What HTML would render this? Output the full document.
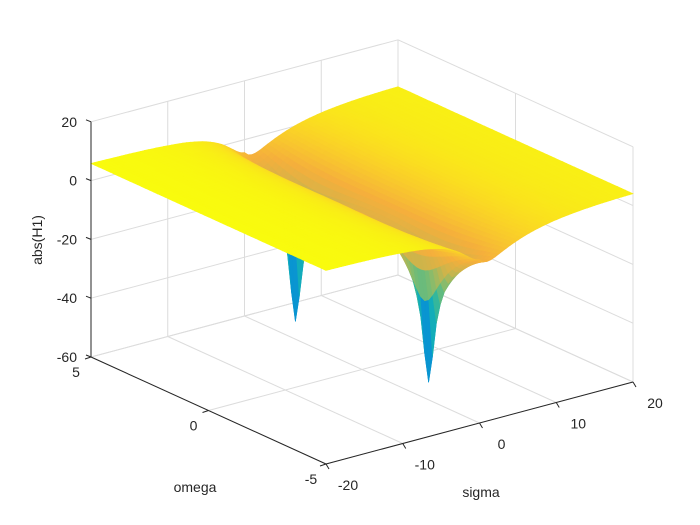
<!DOCTYPE html>
<html><head><meta charset="utf-8">
<style>
html,body{margin:0;padding:0;background:#fff;}
svg{display:block;font-family:"Liberation Sans",sans-serif;}
</style></head>
<body>
<svg id="chart" width="700" height="525" viewBox="0 0 700 525" xmlns="http://www.w3.org/2000/svg">
<g id="grid"></g>
<g id="surface"></g>
<g id="axes"></g>
</svg>
<script>
// data
const sigmaTicks = [-20, -10, 0, 10, 20];
const omegaTicks = [-5, 0, 5];
const zTicks = [-60, -40, -20, 0, 20];
const zeroSigma = [0, 0];
const zeroOmega = [2.8333, -2.8333];
const sigmaRange = [-20, 20];
const omegaRange = [-5, 5];
const zRange = [-60, 20];
const baseLeft = 6.2;
const baseRight = 4.6;
const notchFloor = -54;

const NS = "http://www.w3.org/2000/svg";
function P(s, w, z) {
  return [91 + 7.675 * (s + 20) + 23.5 * (5 - w),
          357 - 2.05 * (s + 20) + 10.7 * (5 - w) - 2.94 * (z + 60)];
}
function mk(parent, tag, attrs) {
  const e = document.createElementNS(NS, tag);
  for (const k in attrs) e.setAttribute(k, attrs[k]);
  parent.appendChild(e);
  return e;
}
function zVal(s, w) {
  const mid = (baseLeft + baseRight) / 2, half = (baseLeft - baseRight) / 2;
  let z = mid - half * Math.tanh(s / 6);
  const R = 16 + 12 * Math.max(0, s) * Math.exp(-s / 6);
  for (let k = 0; k < zeroSigma.length; k++) {
    const d = (s - zeroSigma[k]) ** 2 + (w - zeroOmega[k]) ** 2;
    z += 10 * Math.log10((d + 1e-6) / (d + R));
    z += 10 * Math.log10((d + 1e-6) / (d + 3));
  }
  return Math.max(z, notchFloor);
}
const parula = [[53,42,135],[15,92,221],[18,125,216],[7,156,207],[21,177,180],[60,185,150],[130,188,110],[205,180,75],[245,175,60],[250,212,38],[249,251,14]];
function color(t) {
  t = Math.max(0, Math.min(1, t)) * (parula.length - 1);
  const i = Math.min(parula.length - 2, Math.floor(t)), f = t - i;
  const a = parula[i], b = parula[i + 1];
  return `rgb(${Math.round(a[0]+(b[0]-a[0])*f)},${Math.round(a[1]+(b[1]-a[1])*f)},${Math.round(a[2]+(b[2]-a[2])*f)})`;
}

// grid
const grid = document.getElementById('grid');
const gs = {stroke: '#dcdcdc', 'stroke-width': 1, fill: 'none'};
function line(g, a, b, st) { return mk(g, 'line', Object.assign({x1: a[0], y1: a[1], x2: b[0], y2: b[1]}, st)); }
sigmaTicks.forEach(s => {
  let l = line(grid, P(s, 5, -60), P(s, -5, -60), gs);
  
  
  l = line(grid, P(s, 5, -60), P(s, 5, 20), gs);
  
  
});
omegaTicks.forEach(w => {
  let l = line(grid, P(-20, w, -60), P(20, w, -60), gs);
  
  
  l = line(grid, P(20, w, -60), P(20, w, 20), gs);
  
  
});
zTicks.forEach(z => {
  let l = line(grid, P(-20, 5, z), P(20, 5, z), gs);
  
  
  l = line(grid, P(20, 5, z), P(20, -5, z), gs);
  
  
});

// surface
const surf = document.getElementById('surface');
const NSs = 81, NWs = 61;
const S = [], W = [];
for (let i = 0; i < NSs; i++) S.push(sigmaRange[0] + (sigmaRange[1] - sigmaRange[0]) * i / (NSs - 1));
for (let j = 0; j < NWs; j++) W.push(omegaRange[0] + (omegaRange[1] - omegaRange[0]) * j / (NWs - 1));
const Z = S.map(s => W.map(w => zVal(s, w)));
let zmin = Infinity, zmax = -Infinity;
Z.forEach(r => r.forEach(v => { zmin = Math.min(zmin, v); zmax = Math.max(zmax, v); }));
const quads = [];
for (let i = 0; i < NSs - 1; i++) for (let j = 0; j < NWs - 1; j++) {
  quads.push([i, j, i / (NSs - 1) + j / (NWs - 1)]);
}
quads.sort((a, b) => b[2] - a[2]);
quads.forEach(([i, j]) => {
  const pts = [P(S[i], W[j], Z[i][j]), P(S[i+1], W[j], Z[i+1][j]), P(S[i+1], W[j+1], Z[i+1][j+1]), P(S[i], W[j+1], Z[i][j+1])];
  const zm = (Z[i][j] + Z[i+1][j] + Z[i+1][j+1] + Z[i][j+1]) / 4;
  const c = color((zm - zmin) / (zmax - zmin));
  const p = mk(surf, 'polygon', {points: pts.map(q => q[0].toFixed(1) + ',' + q[1].toFixed(1)).join(' '), fill: c, stroke: c, 'stroke-width': 0.6});
  
  
});

// axes
const ax = document.getElementById('axes');
const as = {stroke: '#262626', 'stroke-width': 1};
let e;
e = line(ax, P(-20, 5, -60), P(-20, 5, 20), as);


e = line(ax, P(-20, 5, -60), P(-20, -5, -60), as);


e = line(ax, P(-20, -5, -60), P(20, -5, -60), as);


const ts = {fill: '#262626', 'font-size': 14};
zTicks.forEach(z => {
  const p = P(-20, 5, z);
  e = line(ax, p, [p[0] - 5, p[1] - 2], as);
  
  
  e = mk(ax, 'text', Object.assign({x: p[0] - 14, y: p[1] + 5, 'text-anchor': 'end'}, ts));
  e.textContent = z;
  
  
});
omegaTicks.forEach(w => {
  const p = P(-20, w, -60);
  e = line(ax, p, [p[0] - 6, p[1] + 2], as);
  
  
  e = mk(ax, 'text', Object.assign({x: p[0] - 15, y: p[1] + 20, 'text-anchor': 'middle'}, ts));
  e.textContent = w;
  
  
});
sigmaTicks.forEach(s => {
  const p = P(s, -5, -60);
  e = line(ax, p, [p[0] + 3, p[1] + 5], as);
  
  
  e = mk(ax, 'text', Object.assign({x: p[0] + 22, y: p[1] + 26, 'text-anchor': 'middle'}, ts));
  e.textContent = s;
  
  
});
e = mk(ax, 'text', Object.assign({x: 195, y: 492, 'text-anchor': 'middle'}, ts));
e.textContent = 'omega';


e = mk(ax, 'text', Object.assign({x: 481, y: 497, 'text-anchor': 'middle'}, ts));
e.textContent = 'sigma';


e = mk(ax, 'text', Object.assign({x: 0, y: 0, 'text-anchor': 'middle', transform: 'translate(42,240) rotate(-90)'}, ts));
e.textContent = 'abs(H1)';


</script>
</body></html>
